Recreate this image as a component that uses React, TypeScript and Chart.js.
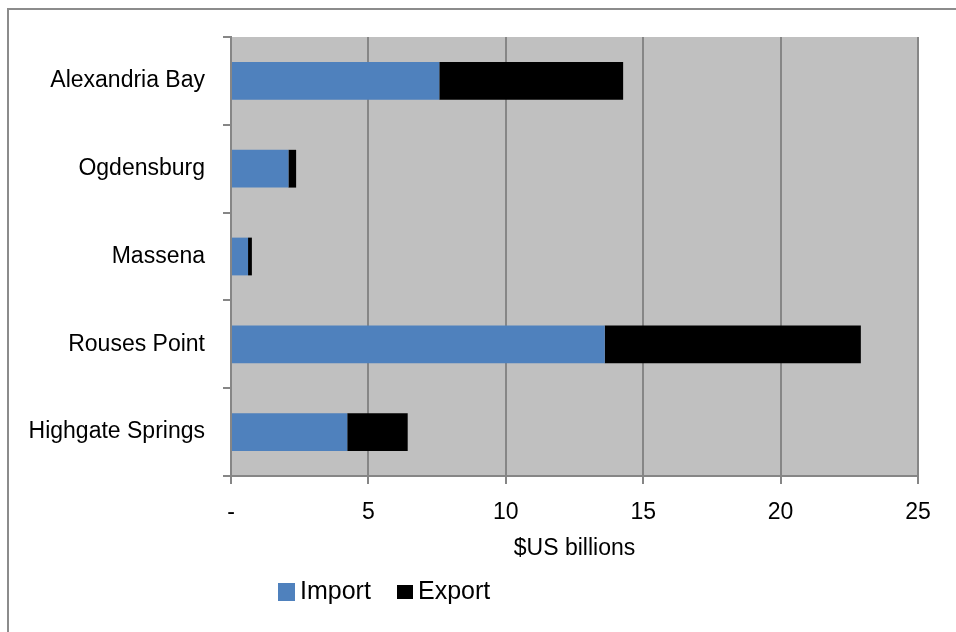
import React, { useEffect, useRef } from "react";
import { Chart, registerables } from "chart.js";

Chart.register(...registerables);

const categories = ["Alexandria Bay", "Ogdensburg", "Massena", "Rouses Point", "Highgate Springs"];
const importValues = [7.58, 2.09, 0.62, 13.6, 4.23];
const exportValues = [6.69, 0.28, 0.14, 9.32, 2.2];
const seriesNames = ["Import", "Export"];
const axisTitle = "$US billions";

const FONT = "'Liberation Sans', Arial, sans-serif";
const FS = 23;
const W = 956;
const H = 632;

const framePlugin = {
  id: "frame",
  beforeDraw(chart: any) {
    const { ctx, chartArea } = chart;
    ctx.save();
    ctx.fillStyle = "#ffffff";
    ctx.fillRect(0, 0, chart.width, chart.height);
    ctx.strokeStyle = "#8c8c8c";
    ctx.lineWidth = 2;
    ctx.strokeRect(8, 9, 1200, 900);
    ctx.fillStyle = "#c0c0c0";
    ctx.fillRect(chartArea.left, chartArea.top, chartArea.right - chartArea.left, chartArea.bottom - chartArea.top);
    ctx.restore();
  },
};

const legendPlugin = {
  id: "customLegend",
  afterDraw(chart: any) {
    const { ctx } = chart;
    const boxes = [
      { x: 278, y: 583, w: 17, h: 18 },
      { x: 397, y: 585, w: 16, h: 14 },
    ];
    ctx.save();
    ctx.font = `25px ${FONT}`;
    ctx.textBaseline = "middle";
    ctx.textAlign = "left";
    chart.data.datasets.forEach((ds: any, i: number) => {
      const b = boxes[i];
      ctx.fillStyle = ds.backgroundColor;
      ctx.fillRect(b.x, b.y, b.w, b.h);
      ctx.fillStyle = "#000000";
      ctx.fillText(ds.label, b.x + (i === 0 ? 22 : 21), 592);
    });
    ctx.restore();
  },
};

export default function App() {
  const ref = useRef<HTMLCanvasElement | null>(null);

  useEffect(() => {
    if (!ref.current) return;
    const chart = new Chart(ref.current, {
      type: "bar",
      data: {
        labels: categories,
        datasets: [
          {
            label: seriesNames[0],
            data: importValues,
            backgroundColor: "#4f81bd",
            borderWidth: 0,
            categoryPercentage: 0.43,
            barPercentage: 1,
          },
          {
            label: seriesNames[1],
            data: exportValues,
            backgroundColor: "#000000",
            borderWidth: 0,
            categoryPercentage: 0.43,
            barPercentage: 1,
          },
        ],
      },
      options: {
        indexAxis: "y",
        responsive: false,
        animation: false,
        devicePixelRatio: 1,
        layout: { padding: { top: 37, right: 38, bottom: 0, left: 0 } },
        plugins: {
          legend: { display: false },
          tooltip: { enabled: false },
        },
        scales: {
          x: {
            stacked: true,
            min: 0,
            max: 25,
            ticks: {
              stepSize: 5,
              padding: 15,
              color: "#000000",
              font: { family: FONT, size: FS },
              callback: (v: any) => (Number(v) === 0 ? "-" : String(v)),
              maxRotation: 0,
            },
            grid: { color: "#868686", lineWidth: 2, tickLength: 8, drawTicks: true },
            border: { color: "#868686", width: 2 },
            title: {
              display: true,
              text: axisTitle,
              color: "#000000",
              font: { family: FONT, size: FS },
              padding: { top: 0, bottom: 70 },
            },
            afterFit: (scale: any) => {
              scale.height = 156;
            },
          },
          y: {
            stacked: true,
            ticks: {
              padding: 18,
              color: "#000000",
              font: { family: FONT, size: FS },
            },
            grid: {
              drawOnChartArea: false,
              drawTicks: true,
              tickLength: 8,
              color: "#868686",
              lineWidth: 2,
              offset: true,
            },
            border: { color: "#868686", width: 2 },
            afterFit: (scale: any) => {
              scale.width = 231;
            },
          },
        },
      },
      plugins: [framePlugin, legendPlugin],
    } as any);
    return () => chart.destroy();
  }, []);

  return (
    <div style={{ position: "fixed", left: 0, top: 0, width: W, height: H, overflow: "hidden", background: "#fff" }}>
      <canvas ref={ref} width={W} height={H} style={{ display: "block", width: W, height: H }} />
    </div>
  );
}
